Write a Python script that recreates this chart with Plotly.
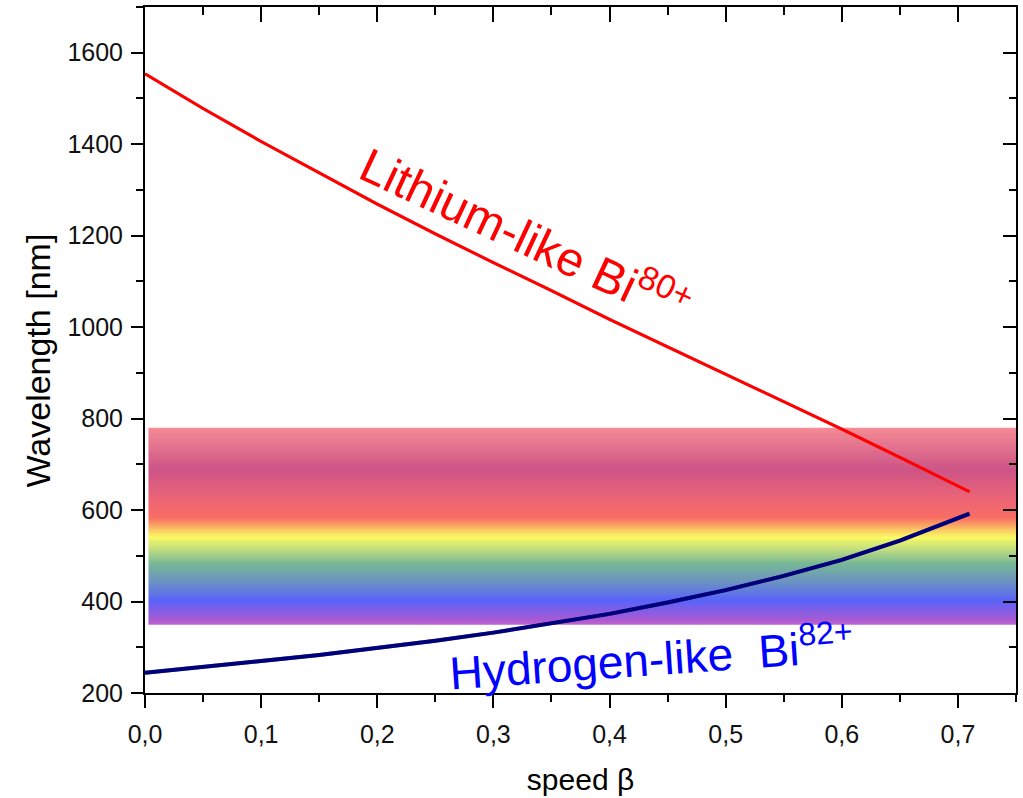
import plotly.graph_objects as go

# Speed of the ion beam (beta = v/c)
beta = [0.0, 0.05, 0.10, 0.15, 0.20, 0.25, 0.30, 0.35, 0.40, 0.45,
        0.50, 0.55, 0.60, 0.65, 0.70, 0.71]

# Laser wavelength needed in the lab frame [nm]
lithium_like = [1554, 1478, 1406, 1337, 1269, 1204, 1141, 1080, 1017, 957,
                897, 837, 777, 715, 652, 640]
hydrogen_like = [244, 256, 270, 283, 298, 314, 332, 352, 373, 398,
                 425, 456, 491, 533, 582, 592]

# Visible band: wavelength stops [nm] and their colours
band_low, band_high, band_step = 350, 780, 2
band_wl = [350, 360, 403, 447, 484, 513, 541, 563, 583, 629, 688, 780]
band_rgb = [(170, 34, 184), (134, 19, 191), (19, 34, 248), (48, 105, 162),
            (62, 155, 105), (162, 205, 76), (248, 248, 34), (248, 148, 34),
            (248, 48, 34), (226, 34, 62), (184, 12, 84), (241, 91, 105)]
band_x = [0.003, 0.75]

x_ticks = [0.0, 0.1, 0.2, 0.3, 0.4, 0.5, 0.6, 0.7]
y_ticks = [200, 400, 600, 800, 1000, 1200, 1400, 1600]

FONT = "Liberation Sans, Arial, sans-serif"

fig = go.Figure()

red_line = dict(color="#ff0000", width=3)
blue_line = dict(color="#00007a", width=4)

fig.add_trace(go.Scatter(x=beta, y=lithium_like, mode="lines", line=red_line,
                         hoverinfo="skip", showlegend=False))
fig.add_trace(go.Scatter(x=beta, y=hydrogen_like, mode="lines", line=blue_line,
                         hoverinfo="skip", showlegend=False))

# Colour band as a one-column heatmap with row edges every band_step nm
edges = list(range(band_low, band_high + 1, band_step))
mids = [[(a + b) / 2] for a, b in zip(edges[:-1], edges[1:])]
span = band_high - band_low
cscale = [[(w - band_low) / span, "rgb(%d,%d,%d)" % c] for w, c in zip(band_wl, band_rgb)]
fig.add_trace(go.Heatmap(x=band_x, y=edges, z=mids, colorscale=cscale,
                         zmin=band_low, zmax=band_high, showscale=False,
                         opacity=0.7, hoverinfo="skip", zsmooth=False))

# Lines again, translucent, so they stay dark through the band
fig.add_trace(go.Scatter(x=beta, y=lithium_like, mode="lines", line=red_line,
                         opacity=0.45, hoverinfo="skip", showlegend=False))
fig.add_trace(go.Scatter(x=beta, y=hydrogen_like, mode="lines", line=blue_line,
                         opacity=0.45, hoverinfo="skip", showlegend=False))

axis_common = dict(showgrid=False, zeroline=False, showline=True, linecolor="black",
                   linewidth=2, tickcolor="black", tickwidth=2,
                   tickfont=dict(family=FONT, size=25, color="#111"))

fig.update_layout(
    width=1023, height=798,
    margin=dict(l=145, r=5, t=7, b=105),
    paper_bgcolor="white", plot_bgcolor="white",
    separators=",.",
    font=dict(family=FONT, color="black"),
    xaxis=dict(range=[0, 0.75], tickvals=x_ticks, tickformat=".1f",
               ticks="outside", ticklen=13, mirror=True,
               minor=dict(dtick=0.05, ticks="outside", ticklen=7, tickwidth=2, tickcolor="black"),
               title=dict(text="speed β", font=dict(family=FONT, size=30), standoff=22),
               ticklabelstandoff=5, **axis_common),
    yaxis=dict(range=[200, 1700], tickvals=y_ticks, tickformat="d",
               ticks="outside", ticklen=12, mirror=True,
               minor=dict(dtick=100, ticks="outside", ticklen=7, tickwidth=2, tickcolor="black"),
               ticklabelstandoff=3, **axis_common),
    xaxis2=dict(overlaying="x", side="top", matches="x", range=[0, 0.75],
                tickvals=x_ticks, showticklabels=False, ticks="inside", ticklen=15,
                tickwidth=2, tickcolor="black", showgrid=False, zeroline=False, showline=False,
                minor=dict(dtick=0.05, ticks="inside", ticklen=8, tickwidth=2, tickcolor="black")),
    yaxis2=dict(overlaying="y", side="right", matches="y", range=[200, 1700],
                tickvals=y_ticks, showticklabels=False, ticks="inside", ticklen=13,
                tickwidth=2, tickcolor="black", showgrid=False, zeroline=False, showline=False,
                minor=dict(dtick=100, ticks="inside", ticklen=7, tickwidth=2, tickcolor="black")),
)

# Dummy trace so the mirrored tick axes are drawn
fig.add_trace(go.Scatter(x=[None], y=[None], xaxis="x2", yaxis="y2",
                         hoverinfo="skip", showlegend=False))

# Y-axis title
fig.add_annotation(x=-0.1226, y=0.485, xref="paper", yref="paper",
                   xanchor="center", yanchor="middle",
                   text="Wavelength [nm]", textangle=-90, showarrow=False,
                   font=dict(family=FONT, size=34, color="black"))

fig.add_annotation(x=0.328, y=1203, xref="x", yref="y",
                   text="Lithium-like Bi<sup>80+</sup>", textangle=25, showarrow=False,
                   font=dict(family=FONT, size=48, color="#ff0000"))
fig.add_annotation(x=0.436, y=280, xref="x", yref="y",
                   text="Hydrogen-like  Bi<sup>82+</sup>", textangle=-4, showarrow=False,
                   font=dict(family=FONT, size=46, color="#0000ff"))

fig.write_html("out.html")
